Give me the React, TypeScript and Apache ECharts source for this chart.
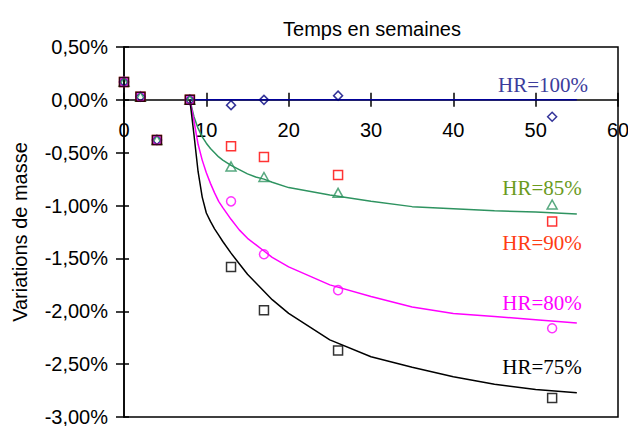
import React, { useEffect, useRef } from "react";
import * as echarts from "echarts";

// Measurement weeks and mass variations (%)
const markerWeeks = [0, 2, 4, 8, 13, 17, 26, 52];
const hr100 = [0.17, 0.03, -0.38, 0, -0.05, 0.0, 0.04, -0.16];
const hr85 = [0.17, 0.03, -0.38, 0, -0.63, -0.73, -0.88, -0.99];
const hr90 = [0.17, 0.03, -0.38, 0, -0.44, -0.54, -0.71, -1.15];
const hr80 = [0.17, 0.03, -0.38, 0, -0.96, -1.46, -1.8, -2.16];
const hr75 = [0.17, 0.03, -0.38, 0, -1.58, -1.99, -2.37, -2.82];

// Fitted curves
const fitWeeks = [8, 8.5, 9, 9.5, 10, 10.5, 11, 11.5, 12, 13, 14, 15, 16, 17, 18, 20, 25, 30, 35, 40, 45, 50, 55];
const fit85 = [0, -0.16, -0.27, -0.35, -0.41, -0.46, -0.5, -0.54, -0.57, -0.62, -0.66, -0.7, -0.73, -0.75, -0.78, -0.83, -0.9, -0.96, -1.01, -1.03, -1.05, -1.06, -1.08];
const fit80 = [0, -0.2, -0.42, -0.57, -0.69, -0.79, -0.88, -0.96, -1.02, -1.13, -1.23, -1.31, -1.37, -1.43, -1.49, -1.58, -1.75, -1.86, -1.96, -2.02, -2.05, -2.08, -2.11];
const fit75 = [0, -0.33, -0.68, -0.92, -1.07, -1.15, -1.22, -1.28, -1.34, -1.45, -1.55, -1.65, -1.73, -1.81, -1.89, -2.02, -2.27, -2.43, -2.53, -2.62, -2.69, -2.74, -2.77];
const fit100Weeks = [8, 55];
const fit100 = [0, 0];

const xTitle = "Temps en semaines";
const yTitle = "Variations de masse";
const hrLabels = ["HR=100%", "HR=85%", "HR=90%", "HR=80%", "HR=75%"];

const SANS = "'Liberation Sans', Arial, Helvetica, sans-serif";
const SERIF = "'Liberation Serif', 'Times New Roman', serif";

const Y_MIN = -3;
const Y_MAX = 0.5;
const GRID_TOP = 47;
const GRID_BOTTOM = 9;
const CHART_H = 426;

const pairs = (xs: number[], ys: number[]) => xs.map((x, i) => [x, ys[i]]);

export default function App() {
  const ref = useRef<HTMLDivElement>(null);
  useEffect(() => {
    if (!ref.current) return;
    const chart = echarts.init(ref.current, null, { renderer: "svg" });
    const tickStyle = { color: "#000", width: 1.5 };
    // move the x axis up from the grid bottom to the y = 0 line
    const plotH = CHART_H - GRID_TOP - GRID_BOTTOM;
    const zeroOffset = -plotH * (0 - Y_MIN) / (Y_MAX - Y_MIN);
    const lineSeries = (data: number[][], color: string) => ({
      type: "line",
      data,
      symbol: "none",
      smooth: false,
      lineStyle: { color, width: 1.5 },
      z: 2,
    });
    const markerSeries = (data: number[][], color: string, symbol: string, size: any) => ({
      type: "scatter",
      data,
      symbol,
      symbolSize: size,
      itemStyle: { color: "rgba(0,0,0,0)", borderColor: color, borderWidth: 1.5 },
      z: 3,
    });
    const hrText = (text: string, x: number, y: number, color: string) => ({
      type: "text",
      x,
      y,
      style: {
        text,
        fill: color,
        font: `21px ${SERIF}`,
        align: "center",
        verticalAlign: "middle",
      },
    });
    chart.setOption({
      animation: false,
      grid: {
        left: 124,
        right: 10,
        top: GRID_TOP,
        bottom: GRID_BOTTOM,
        show: true,
        borderColor: "#000",
        borderWidth: 1.5,
        backgroundColor: "transparent",
        containLabel: false,
        outerBoundsMode: "none",
      },
      xAxis: [
        {
          type: "value",
          min: 0,
          max: 60,
          interval: 10,
          position: "bottom",
          offset: zeroOffset,
          axisLine: { onZero: false, lineStyle: tickStyle },
          axisTick: { length: 7, lineStyle: tickStyle },
          axisLabel: {
            margin: 20,
            fontSize: 20,
            fontFamily: SANS,
            color: "#000",
            showMinLabel: true,
            showMaxLabel: true,
          },
          splitLine: { show: false },
        },
        {
          type: "value",
          min: 0,
          max: 60,
          interval: 10,
          position: "bottom",
          offset: zeroOffset,
          axisLine: { show: false, onZero: false },
          axisTick: { inside: true, length: 7, lineStyle: tickStyle },
          axisLabel: { show: false },
          splitLine: { show: false },
        },
      ],
      yAxis: [
        {
          type: "value",
          min: Y_MIN,
          max: Y_MAX,
          interval: 0.5,
          position: "left",
          axisLine: { onZero: false, lineStyle: tickStyle },
          axisTick: { length: 8, lineStyle: tickStyle },
          axisLabel: {
            margin: 16,
            fontSize: 20,
            fontFamily: SANS,
            color: "#000",
            formatter: (v: number) => v.toFixed(2).replace(".", ",") + "%",
          },
          splitLine: { show: false },
        },
        {
          type: "value",
          min: Y_MIN,
          max: Y_MAX,
          interval: 0.5,
          position: "left",
          axisLine: { show: false, onZero: false },
          axisTick: { inside: true, length: 5, lineStyle: tickStyle },
          axisLabel: { show: false },
          splitLine: { show: false },
        },
      ],
      series: [
        lineSeries(pairs(fit100Weeks, fit100), "#000099"),
        lineSeries(pairs(fitWeeks, fit85), "#2e9360"),
        lineSeries(pairs(fitWeeks, fit80), "#ff00ff"),
        lineSeries(pairs(fitWeeks, fit75), "#000000"),
        markerSeries(pairs(markerWeeks, hr100), "#000080", "diamond", [9, 9]),
        markerSeries(pairs(markerWeeks, hr85), "#2e9360", "triangle", [10, 9]),
        markerSeries(pairs(markerWeeks, hr90), "#ff0000", "rect", 9),
        markerSeries(pairs(markerWeeks, hr80), "#ff00ff", "circle", 9),
        markerSeries(pairs(markerWeeks, hr75), "#000000", "rect", 9),
      ],
      graphic: [
        {
          type: "text",
          x: 372,
          y: 29,
          style: { text: xTitle, fill: "#000", font: `20px ${SANS}`, align: "center", verticalAlign: "middle" },
        },
        {
          type: "text",
          x: 20,
          y: 232,
          rotation: Math.PI / 2,
          style: { text: yTitle, fill: "#000", font: `20px ${SANS}`, align: "center", verticalAlign: "middle" },
        },
        hrText(hrLabels[0], 543, 85, "#3c3c9c"),
        hrText(hrLabels[1], 542, 188, "#6b9b1e"),
        hrText(hrLabels[2], 542, 243, "#ff3c14"),
        hrText(hrLabels[3], 542, 303, "#ff00ff"),
        hrText(hrLabels[4], 542, 367, "#000000"),
      ],
    });
    return () => chart.dispose();
  }, []);
  return <div ref={ref} style={{ width: 628, height: 426, position: "absolute", left: 0, top: 0 }} />;
}
